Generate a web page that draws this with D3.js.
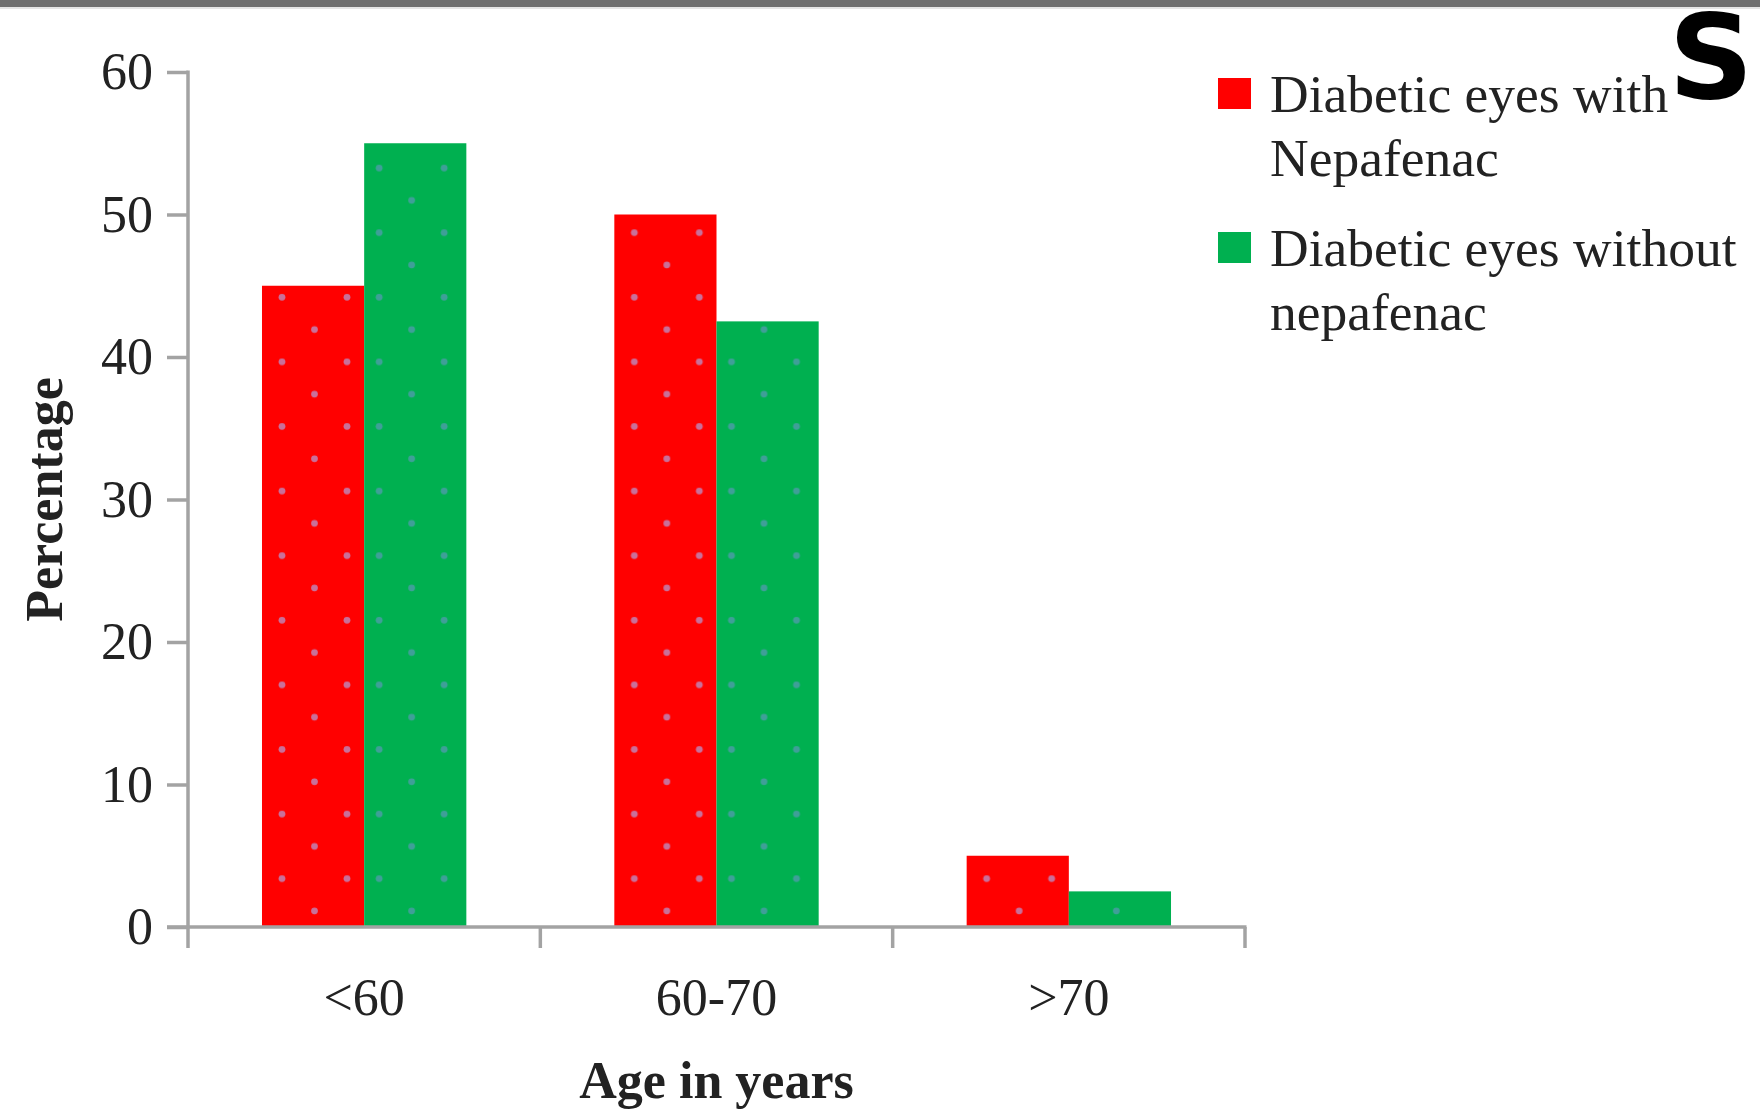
<!DOCTYPE html>
<html>
<head>
<meta charset="utf-8">
<script src="https://cdn.jsdelivr.net/npm/d3@7"></script>
<style>
  html, body { margin: 0; padding: 0; background: #ffffff; }
  svg { display: block; }
</style>
</head>
<body>
<svg id="chart" width="1760" height="1113"></svg>
<script>
// ---- data ----
const categories = ["<60", "60-70", ">70"];
const seriesKeys = ["with", "without"];
const withNepafenac = [45, 50, 5];
const withoutNepafenac = [55, 42.5, 2.5];
const yTickValues = [0, 10, 20, 30, 40, 50, 60];
const legendLabels = [
  ["Diabetic eyes with", "Nepafenac"],
  ["Diabetic eyes without", "nepafenac"]
];
const xTitle = "Age in years";
const yTitle = "Percentage";
const cornerLetter = "S";

// ---- styles ----
const seriesColors = ["#ff0000", "#00b050"];
const axisColor = "#a3a3a3";
const textColor = "#222222";
const serif = "'Liberation Serif', 'Times New Roman', serif";
const fontSize = 52;

const svg = d3.select("#chart");
const W = 1760, H = 1113;
const plotLeft = 188, plotRight = 1245, plotTop = 72, plotBottom = 927;

svg.append("rect").attr("x", 0).attr("y", 0).attr("width", W).attr("height", H).attr("fill", "#ffffff");
// top gray rule
svg.append("rect").attr("x", 0).attr("y", 0).attr("width", W).attr("height", 7).attr("fill", "#707070");
svg.append("rect").attr("x", 0).attr("y", 7).attr("width", W).attr("height", 2).attr("fill", "#e6e6e6");

const x0 = d3.scaleBand().domain(categories).range([plotLeft, plotRight]).paddingInner(0.42).paddingOuter(0.21);
const x1 = d3.scaleBand().domain(seriesKeys).range([0, x0.bandwidth()]).padding(0);
const y = d3.scaleLinear().domain([0, 60]).range([plotBottom, plotTop]);
const color = d3.scaleOrdinal().domain(seriesKeys).range(seriesColors);

const rows = categories.map((c, i) => ({ cat: c, values: [withNepafenac[i], withoutNepafenac[i]] }));
const bars = [];
rows.forEach(r => seriesKeys.forEach((k, j) => bars.push({ cat: r.cat, key: k, value: r.values[j] })));

// dotted patterns anchored per bar
const defs = svg.append("defs");
const tileW = 65, tileH = 64.6;
const dotColor = { with: "#c9709a", without: "#3f9f98" };
const pats = defs.selectAll("pattern").data(bars).join("pattern")
  .attr("id", (d, i) => "dots" + i)
  .attr("patternUnits", "userSpaceOnUse")
  .attr("x", d => x0(d.cat) + x1(d.key))
  .attr("y", y(0))
  .attr("width", tileW).attr("height", tileH);
pats.append("rect").attr("width", tileW).attr("height", tileH).attr("fill", d => color(d.key));
pats.append("circle").attr("cx", d => d.key === "with" ? 20 : 15).attr("cy", 16.2).attr("r", 3.4)
  .attr("fill", d => dotColor[d.key]);
pats.append("circle").attr("cx", d => d.key === "with" ? 52.5 : 47.5).attr("cy", 48.5).attr("r", 3.4)
  .attr("fill", d => dotColor[d.key]);

svg.append("g").selectAll("rect").data(bars).join("rect")
  .attr("x", d => x0(d.cat) + x1(d.key))
  .attr("y", d => y(d.value))
  .attr("width", x1.bandwidth())
  .attr("height", d => y(0) - y(d.value))
  .attr("fill", (d, i) => `url(#dots${i})`);

// y axis
const yAxis = svg.append("g").attr("transform", `translate(${plotLeft},0)`)
  .call(d3.axisLeft(y).tickValues(yTickValues).tickSize(21).tickPadding(14).tickFormat(d3.format("d")));
yAxis.select(".domain").remove();
yAxis.selectAll(".tick line").attr("stroke", axisColor).attr("stroke-width", 3.5);
yAxis.selectAll(".tick text").attr("fill", textColor).attr("font-family", serif).attr("font-size", fontSize);
svg.append("line").attr("x1", plotLeft).attr("x2", plotLeft).attr("y1", y(60) - 1.5).attr("y2", y(0) + 21)
  .attr("stroke", axisColor).attr("stroke-width", 3.5);

// x axis
svg.append("line").attr("x1", plotLeft - 21).attr("x2", plotRight + 1.5).attr("y1", y(0)).attr("y2", y(0))
  .attr("stroke", axisColor).attr("stroke-width", 3.5);
const boundaries = d3.range(categories.length + 1).map(i => x0.range()[0] + i * x0.step());
svg.append("g").selectAll("line").data(boundaries.slice(1)).join("line")
  .attr("x1", d => d).attr("x2", d => d).attr("y1", y(0)).attr("y2", y(0) + 21)
  .attr("stroke", axisColor).attr("stroke-width", 3.5);
const xAxis = svg.append("g").attr("transform", `translate(0,${y(0)})`)
  .call(d3.axisBottom(x0).tickSize(0));
xAxis.select(".domain").remove();
xAxis.selectAll(".tick text").attr("y", 88).attr("dy", 0)
  .attr("fill", textColor).attr("font-family", serif).attr("font-size", fontSize);

// titles
svg.append("text").attr("x", (plotLeft + plotRight) / 2).attr("y", 1098).attr("text-anchor", "middle")
  .attr("font-family", serif).attr("font-weight", "bold").attr("font-size", fontSize)
  .attr("fill", textColor).text(xTitle);
svg.append("text").attr("transform", `translate(62,${(plotTop + plotBottom) / 2}) rotate(-90)`)
  .attr("text-anchor", "middle")
  .attr("font-family", serif).attr("font-weight", "bold").attr("font-size", fontSize)
  .attr("fill", textColor).text(yTitle);

// legend
const legendY = [78, 232];
const leg = svg.append("g").selectAll("g").data(seriesKeys).join("g")
  .attr("transform", (d, i) => `translate(1218,${legendY[i]})`);
leg.append("rect").attr("width", 33).attr("height", 31).attr("fill", d => color(d));
leg.each(function(d, i) {
  const g = d3.select(this);
  legendLabels[i].forEach((line, j) => {
    g.append("text").attr("x", 52).attr("y", 34 + j * 64)
      .attr("font-family", serif).attr("font-size", 53.5).attr("fill", textColor).text(line);
  });
});

// corner letter
svg.append("text").attr("x", 1711).attr("y", 98).attr("text-anchor", "middle")
  .attr("font-family", "'DejaVu Sans', sans-serif").attr("font-weight", "bold").attr("font-size", 118)
  .attr("fill", "#000000").text(cornerLetter);
</script>
</body>
</html>
